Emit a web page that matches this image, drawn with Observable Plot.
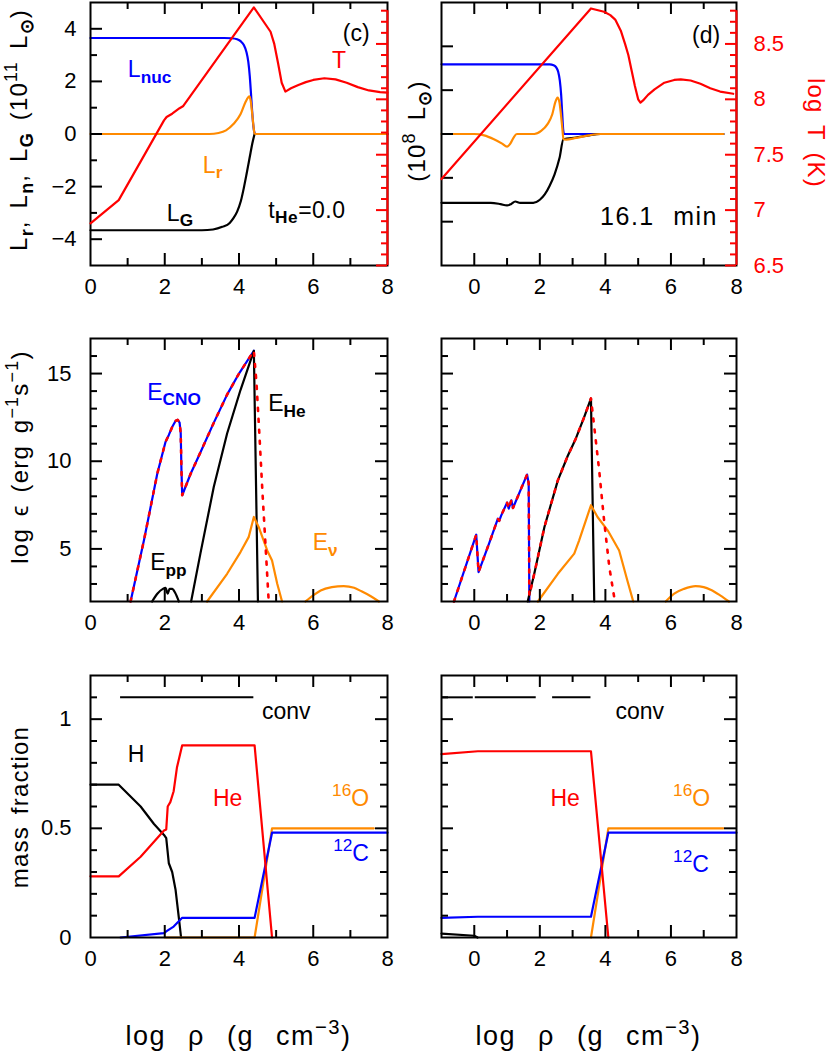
<!DOCTYPE html>
<html><head><meta charset="utf-8">
<script src="https://cdn.jsdelivr.net/npm/d3@7"></script>
<script src="https://cdn.jsdelivr.net/npm/@observablehq/plot@0.6"></script>
<style>
body{margin:0;background:#fff;}
#chart{position:relative;width:830px;height:1051px;background:#fff;}
</style></head><body><div id="chart"></div><script>
// ---------- DATA ----------
// x values: log rho ; panel (c) left column, panel (d) right column
const xTicksLabel = [0, 2, 4, 6, 8];
// Row 1: luminosities (c: 1e11 Lsun, d: 1e8 Lsun) and log T
const cLnuc = [[0,3.65],[3.6,3.65],[3.8,3.64],[3.95,3.6],[4.05,3.52],[4.13,3.38],[4.2,3.12],[4.25,2.75],[4.29,2.2],[4.32,1.6],[4.35,0.95],[4.38,0.4],[4.41,0.08],[4.44,0],[8,0]];
const cLG = [[0,-3.66],[3.0,-3.66],[3.3,-3.63],[3.55,-3.53],[3.75,-3.38],[3.85,-3.2],[3.95,-2.95],[4.05,-2.55],[4.13,-2.05],[4.2,-1.55],[4.26,-1.1],[4.31,-0.72],[4.36,-0.35],[4.42,0]];
const cLr = [[0,0],[3.2,0],[3.45,0.04],[3.65,0.14],[3.85,0.38],[4.04,0.75],[4.17,1.2],[4.25,1.4],[4.28,1.43],[4.31,1.3],[4.35,0.85],[4.39,0.3],[4.42,0.02],[4.45,0],[8,0]];
const cT = [[0,6.88],[0.76,7.09],[1.98,7.81],[2.05,7.84],[2.2,7.87],[2.4,7.92],[2.5,7.94],[4.4,8.83],[4.85,8.61],[4.95,8.5],[5.05,8.33],[5.15,8.15],[5.25,8.07],[5.4,8.1],[5.6,8.13],[5.8,8.155],[6.0,8.175],[6.3,8.19],[6.6,8.18],[6.9,8.15],[7.2,8.11],[7.5,8.08],[7.8,8.065],[8,8.06]];
const dLnuc = [[-1,1.59],[2.3,1.59],[2.42,1.57],[2.5,1.52],[2.56,1.42],[2.61,1.22],[2.65,0.9],[2.68,0.5],[2.71,0.12],[2.74,0],[7.6,0]];
const dLG = [[-1,-1.57],[0.5,-1.57],[0.8,-1.6],[1.0,-1.63],[1.12,-1.6],[1.25,-1.54],[1.4,-1.57],[1.8,-1.57],[2.0,-1.5],[2.15,-1.38],[2.3,-1.18],[2.45,-0.92],[2.6,-0.55],[2.72,-0.12],[3.1,-0.08],[3.5,-0.03],[3.85,0],[7.6,0]];
const dLr = [[-1,0],[0,0],[0.3,-0.03],[0.6,-0.12],[0.85,-0.22],[1.0,-0.29],[1.1,-0.22],[1.2,-0.08],[1.3,0],[1.83,0],[2.04,0.07],[2.24,0.23],[2.38,0.45],[2.47,0.72],[2.54,0.83],[2.6,0.72],[2.65,0.4],[2.69,0.1],[2.72,-0.12],[2.8,-0.13],[3.1,-0.09],[3.5,-0.03],[3.85,0],[7.6,0]];
const dT = [[-1,7.28],[3.56,8.82],[3.96,8.79],[4.15,8.76],[4.3,8.72],[4.47,8.62],[4.6,8.5],[4.7,8.4],[4.8,8.26],[4.9,8.12],[5.0,8.0],[5.07,7.97],[5.15,7.99],[5.3,8.04],[5.5,8.09],[5.8,8.15],[6.1,8.175],[6.3,8.18],[6.6,8.17],[6.9,8.14],[7.2,8.1],[7.5,8.07],[7.9,8.05]];
// Row 2: log epsilon
const cEcno = [[1.08,2],[1.44,5.49],[1.8,9.3],[2.02,11.1],[2.11,11.5],[2.2,11.95],[2.29,12.3],[2.35,12.36],[2.4,12.2],[2.43,11.6],[2.45,9.5],[2.47,8.06],[2.7,9.3],[2.96,10.5],[3.3,12.1],[3.68,13.8],[4.0,15.0],[4.4,16.3]];
const cEtotTail = [[4.47,14.5],[4.55,11.5],[4.63,8.3],[4.72,5],[4.8,2]];
const cEhe = [[2.71,2],[2.96,4.73],[3.32,8.53],[3.68,11.58],[4.04,14.06],[4.4,16.3],[4.51,2]];
const cEpp = [[1.66,2],[1.8,2.44],[1.95,2.72],[2.02,2.78],[2.08,2.45],[2.13,2.72],[2.2,2.72],[2.28,2.5],[2.38,2]];
const cEnu = [[3.14,2],[3.68,3.58],[4.04,4.82],[4.26,5.67],[4.4,6.82],[4.53,6.25],[4.76,4.91],[4.89,4.34],[5.03,3.01],[5.16,2]];
const cEnu2 = [[5.79,2],[6.0,2.35],[6.2,2.63],[6.5,2.82],[6.82,2.88],[7.1,2.78],[7.3,2.58],[7.55,2.3],[7.77,2]];
const dEcno = [[-0.62,2],[0.06,5.81],[0.13,3.68],[0.45,5.3],[0.72,6.72],[0.76,6.6],[0.82,6.9],[1.0,7.64],[1.05,7.3],[1.13,7.77],[1.18,7.33],[1.61,9.24],[1.66,8.73],[1.68,2]];
const dEhe = [[1.63,2],[1.83,3.58],[2.14,6.25],[2.55,8.91],[2.85,10.3],[3.1,11.3],[3.35,12.5],[3.56,13.58],[3.66,2]];
const dEtot = [[-0.62,2],[0.06,5.81],[0.13,3.68],[0.45,5.3],[0.72,6.72],[0.76,6.6],[0.82,6.9],[1.0,7.64],[1.05,7.3],[1.13,7.77],[1.18,7.33],[1.61,9.24],[1.66,8.73],[1.68,2.35],[1.83,3.58],[2.14,6.25],[2.55,8.91],[2.85,10.3],[3.1,11.3],[3.35,12.5],[3.56,13.58],[3.66,11.96],[3.81,9.49],[3.96,6.63],[4.12,3.96],[4.29,2]];
const dEnu = [[1.94,2],[2.55,3.58],[3.05,4.73],[3.2,5.49],[3.56,7.49],[3.76,6.82],[4.07,6.06],[4.42,4.91],[4.67,3.2],[4.85,2]];
const dEnu2 = [[5.84,2],[6.1,2.45],[6.4,2.72],[6.75,2.88],[7.0,2.82],[7.21,2.67],[7.5,2.35],[7.77,2]];
// Row 3: mass fractions
const cH = [[0,0.70],[0.76,0.70],[1.35,0.60],[1.71,0.52],[1.98,0.47],[2.04,0.455],[2.11,0.34],[2.2,0.30],[2.29,0.22],[2.38,0.09],[2.44,0]];
const cHe = [[0,0.28],[0.76,0.28],[1.35,0.37],[1.98,0.49],[2.04,0.495],[2.08,0.60],[2.15,0.62],[2.24,0.67],[2.33,0.78],[2.47,0.88],[4.42,0.88],[4.89,0]];
const cC12 = [[0.81,0],[1.98,0.02],[2.06,0.03],[2.24,0.05],[2.47,0.09],[4.42,0.09],[4.89,0.48],[8,0.48]];
const cO16 = [[2.0,0],[4.42,0],[4.89,0.5],[7.63,0.5]];
const cConv = [{from:0.81,to:4.40,level:1.1}];
const dH = [[-1,0.018],[0,0.008],[0.1,0]];
const dHe = [[-1,0.84],[0.11,0.853],[3.56,0.853],[4.09,0]];
const dC12 = [[-1,0.09],[0.11,0.095],[3.56,0.095],[4.09,0.48],[8,0.48]];
const dO16 = [[3.56,0],[4.09,0.5],[7.6,0.5]];
const dConv = [{from:-1,to:-0.03,level:1.1},{from:0.03,to:1.89,level:1.1},{from:2.39,to:3.56,level:1.1}];

// ---------- STYLE / LAYOUT ----------
const FONT = "'Liberation Sans', Arial, Helvetica, sans-serif";
const BLUE = "#0000ff", RED = "#ff0000", ORANGE = "#ff8a00", BLACK = "#000000";
const W = 415;
const COLS = {L:{left:0, ml:90, mr:28}, R:{left:415, ml:26, mr:94}};
const ROWS = {1:{top:0, h:320, mt:2, mb:55}, 2:{top:320, h:340, mt:18, mb:59}, 3:{top:660, h:391, mt:15, mb:114}};
const chart = document.getElementById("chart");
const fmt = d => String(d);

function dims(col,row){const c=COLS[col],r=ROWS[row];return {fw:W-c.ml-c.mr, fh:r.h-r.mt-r.mb};}

function mount(col,row,xDomain,yDomain,marks,extra=""){
  const c=COLS[col], r=ROWS[row];
  const svg = Plot.plot({width:W, height:r.h, marginLeft:c.ml, marginRight:c.mr, marginTop:r.mt, marginBottom:r.mb,
    x:{domain:xDomain, axis:null}, y:{domain:yDomain, axis:null},
    style:`background:transparent;overflow:visible;font-family:${FONT};font-size:22px;color:black;${extra}`, marks});
  svg.style.position="absolute"; svg.style.left=c.left+"px"; svg.style.top=r.top+"px";
  chart.appendChild(svg);
  return svg;
}

function tickMarks(fw,fh,o,stroke=BLACK){
  const L=12,l=7,sw=2,out=[];
  const X=(arr,len)=>[Plot.tickX(arr,{insetTop:fh-len,stroke,strokeWidth:sw}),Plot.tickX(arr,{insetBottom:fh-len,stroke,strokeWidth:sw})];
  const Y=(arr,len)=>{const m=[];if(o.left!==false)m.push(Plot.tickY(arr,{insetRight:fw-len,stroke,strokeWidth:sw}));if(o.right!==false)m.push(Plot.tickY(arr,{insetLeft:fw-len,stroke,strokeWidth:sw}));return m;};
  if(o.xMaj)out.push(...X(o.xMaj,L)); if(o.xMin)out.push(...X(o.xMin,l));
  if(o.yMaj)out.push(...Y(o.yMaj,L)); if(o.yMin)out.push(...Y(o.yMin,l));
  return out;
}

function panel(o){
  const {fw,fh}=dims(o.col,o.row);
  const marks=[];
  for(const s of o.lines) marks.push(Plot.line(s.data,{x:d=>d[0],y:d=>d[1],stroke:s.stroke,strokeWidth:s.width||2.2,strokeDasharray:s.dash,curve:s.curve||"linear"}));
  if(o.conv) marks.push(Plot.ruleY(o.conv,{y:"level",x1:"from",x2:"to",stroke:BLACK,strokeWidth:2}));
  marks.push(Plot.frame({stroke:BLACK,strokeWidth:2}));
  marks.push(...tickMarks(fw,fh,o));
  marks.push(Plot.axisX(xTicksLabel,{anchor:"bottom",tickSize:0,tickPadding:13,fontSize:22,label:null,tickFormat:fmt}));
  if(o.yLabels) marks.push(Plot.axisY(o.yLabels,{anchor:"left",tickSize:0,tickPadding:o.yPad,fontSize:22,label:null,tickFormat:d=>d<0?"\u2212"+(-d):String(d)}));
  return mount(o.col,o.row,o.xDomain,o.yDomain,marks);
}

const T_DOMAIN=[6.5,8.874];
const T_MAJ=[6.5,7,7.5,8,8.5];
const T_MIN=d3.range(66,89).map(v=>v/10).filter(v=>!T_MAJ.includes(v));
function tPanel(col,xDomain,data,labels){
  const {fw,fh}=dims(col,1);
  const marks=[
    Plot.line(data,{x:d=>d[0],y:d=>d[1],stroke:RED,strokeWidth:2.2}),
    Plot.ruleX([xDomain[1]],{y1:6.5,y2:8.8,stroke:RED,strokeWidth:2}),
    Plot.tickY(T_MAJ,{insetLeft:fw-11,stroke:RED,strokeWidth:2}),
    Plot.tickY(T_MIN,{insetLeft:fw-6,stroke:RED,strokeWidth:2})
  ];
  if(labels) marks.push(Plot.axisY(T_MAJ,{anchor:"right",tickSize:0,tickPadding:17,fontSize:22,label:null,tickFormat:fmt}));
  return mount(col,1,xDomain,T_DOMAIN,marks,"color:red;");
}

function rich(t,parts,size){
  let cur=0;
  for(const [txt,kind] of parts){
    const off = kind==="sub"? size*0.25 : kind==="sup"? -size*0.42 : 0;
    const ts=t.append("tspan").attr("dy",off-cur).attr("font-size",kind? size*0.75 : size).text(txt);
    if(kind==="sub") ts.attr("font-weight","bold");
    cur=off;
  }
}
function annotate(svg,items){
  const sx=svg.scale("x"), sy=svg.scale("y");
  const s=d3.select(svg);
  for(const it of items){
    const size=it.size||23;
    const t=s.append("text").attr("x",sx.apply(it.x)).attr("y",sy.apply(it.y))
      .attr("fill",it.color||BLACK).attr("font-size",size).attr("font-family",FONT)
      .attr("text-anchor",it.anchor||"start").attr("word-spacing",it.ws||0).attr("letter-spacing",it.ls||0);
    rich(t,it.parts,size);
  }
}
function title(svg,{x,y,rotate,parts,color,size=24,anchor="middle",ws=4,ls="1.2px"}){
  const t=d3.select(svg).append("text").attr("transform",`translate(${x},${y}) rotate(${rotate||0})`)
    .attr("fill",color||BLACK).attr("font-size",size).attr("font-family",FONT).attr("text-anchor",anchor)
    .attr("letter-spacing",ls).attr("word-spacing",ws);
  rich(t,parts,size);
}

// ---------- ROW 1 ----------
const p1L = panel({col:"L",row:1,xDomain:[0,8],yDomain:[-5,5],xMaj:[2,4,6],xMin:[1,3,5,7],yMaj:[-4,-2,0,2,4],yMin:[-3,-1,1,3],right:false,
  yLabels:[-4,-2,0,2,4],yPad:14,
  lines:[{data:cLnuc,stroke:BLUE,curve:"monotone-x"},{data:cLG,stroke:BLACK,curve:"monotone-x"},{data:cLr,stroke:ORANGE,curve:"monotone-x"}]});
annotate(p1L,[
  {x:1.02,y:2.13,parts:[["L"],["nuc","sub"]],color:BLUE},
  {x:6.52,y:2.48,parts:[["T"]],color:RED},
  {x:6.81,y:3.5,parts:[["(c)"]]},
  {x:3.04,y:-1.49,parts:[["L"],["r","sub"]],color:ORANGE},
  {x:2.07,y:-3.31,parts:[["L"],["G","sub"]]},
  {x:4.8,y:-3.2,parts:[["t"],["He","sub"],["=0.0"]],ls:"0.5px"}
]);
title(p1L,{x:27,y:130,rotate:-90,parts:[["L"],["r","sub"],[", L"],["n","sub"],[", L"],["G","sub"],[" (10"],["11","sup"],[" L"],["⊙","sub"],[")"]]});
tPanel("L",[0,8],cT,false);

const p1R = panel({col:"R",row:1,xDomain:[-1,8],yDomain:[-3,3],xMaj:[0,2,4,6],xMin:[1,3,5,7],yMaj:[-2,-1,0,1,2],right:false,
  lines:[{data:dLnuc,stroke:BLUE,curve:"monotone-x"},{data:dLG,stroke:BLACK,curve:"monotone-x"},{data:dLr,stroke:ORANGE,curve:"monotone-x"}]});
annotate(p1R,[
  {x:6.66,y:2.07,parts:[["(d)"]]},
  {x:7.45,y:-2.09,parts:[["16.1 min"]],anchor:"end",size:25,ws:10,ls:"1.5px"}
]);
title(p1R,{x:10,y:131,rotate:-90,parts:[["(10"],["8","sup"],[" L"],["⊙","sub"],[")"]]});
const t1R = tPanel("R",[-1,8],dT,true);
title(t1R,{x:393,y:133,rotate:90,parts:[["log T (K)"]],color:RED});

// ---------- ROW 2 ----------
const eMaj=[5,10,15], eMin=[3,4,6,7,8,9,11,12,13,14,16];
const p2L = panel({col:"L",row:2,xDomain:[0,8],yDomain:[2,17],xMaj:[2,4,6],xMin:[1,3,5,7],yMaj:eMaj,yMin:eMin,yLabels:eMaj,yPad:19,
  lines:[{data:cEcno,stroke:BLUE},{data:cEhe,stroke:BLACK},{data:cEpp,stroke:BLACK,curve:"monotone-x"},
         {data:cEnu,stroke:ORANGE},{data:cEnu2,stroke:ORANGE,curve:"monotone-x"},
         {data:cEcno.concat(cEtotTail),stroke:RED,dash:"3,8",width:2.6}]});
annotate(p2L,[
  {x:1.54,y:13.49,parts:[["E"],["CNO","sub"]],color:BLUE},
  {x:4.8,y:12.83,parts:[["E"],["He","sub"]]},
  {x:1.62,y:3.77,parts:[["E"],["pp","sub"]]},
  {x:6.0,y:4.91,parts:[["E"],["ν","sub"]],color:ORANGE}
]);
title(p2L,{x:28,y:137,rotate:-90,parts:[["log ϵ (erg g"],["−1","sup"],["s"],["−1","sup"],[")"]]});

const p2R = panel({col:"R",row:2,xDomain:[-1,8],yDomain:[2,17],xMaj:[0,2,4,6],xMin:[1,3,5,7],yMaj:eMaj,yMin:eMin,
  lines:[{data:dEcno,stroke:BLUE},{data:dEhe,stroke:BLACK},
         {data:dEnu,stroke:ORANGE},{data:dEnu2,stroke:ORANGE,curve:"monotone-x"},
         {data:dEtot,stroke:RED,dash:"3,8",width:2.6}]});

// ---------- ROW 3 ----------
const mMaj=[0.5,1.0], mMin=[0.1,0.2,0.3,0.4,0.6,0.7,0.8,0.9,1.1];
const p3L = panel({col:"L",row:3,xDomain:[0,8],yDomain:[0,1.2],xMaj:[2,4,6],xMin:[1,3,5,7],yMaj:mMaj,yMin:mMin,yLabels:[0,0.5,1],yPad:19,
  conv:cConv,
  lines:[{data:cH,stroke:BLACK},{data:cO16,stroke:ORANGE},{data:cC12,stroke:BLUE},{data:cHe,stroke:RED}]});
annotate(p3L,[
  {x:4.63,y:1.0,parts:[["conv"]]},
  {x:1.02,y:0.80,parts:[["H"]]},
  {x:3.31,y:0.60,parts:[["He"]],color:RED},
  {x:6.52,y:0.60,parts:[["16","sup"],["O"]],color:ORANGE},
  {x:6.55,y:0.35,parts:[["12","sup"],["C"]],color:BLUE}
]);
title(p3L,{x:28,y:147,rotate:-90,parts:[["mass fraction"]]});
title(p3L,{x:90+297/2,y:385,parts:[["log ρ (g cm"],["−3","sup"],[")"]],size:27,ws:13,ls:"1.5px"});

const p3R = panel({col:"R",row:3,xDomain:[-1,8],yDomain:[0,1.2],xMaj:[0,2,4,6],xMin:[1,3,5,7],yMaj:mMaj,yMin:mMin,
  conv:dConv,
  lines:[{data:dH,stroke:BLACK},{data:dO16,stroke:ORANGE},{data:dC12,stroke:BLUE},{data:dHe,stroke:RED}]});
annotate(p3R,[
  {x:4.32,y:1.0,parts:[["conv"]]},
  {x:2.34,y:0.60,parts:[["He"]],color:RED},
  {x:6.08,y:0.60,parts:[["16","sup"],["O"]],color:ORANGE},
  {x:6.08,y:0.30,parts:[["12","sup"],["C"]],color:BLUE}
]);
title(p3R,{x:26+295/2,y:385,parts:[["log ρ (g cm"],["−3","sup"],[")"]],size:27,ws:13,ls:"1.5px"});
</script></body></html>
